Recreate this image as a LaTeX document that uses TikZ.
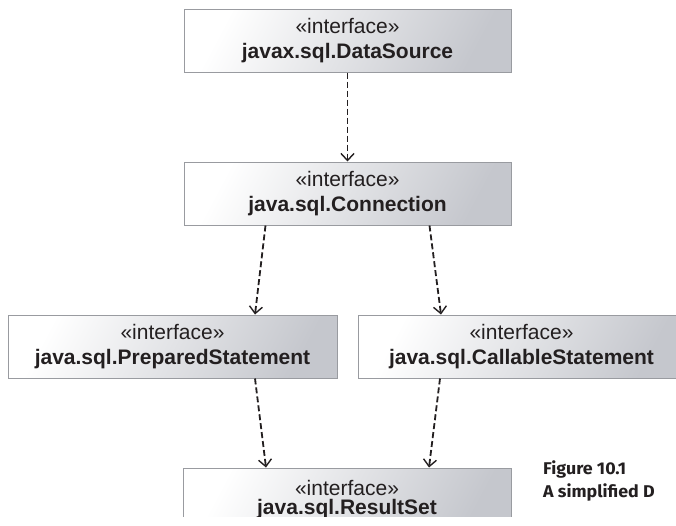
\documentclass[tikz,border=0pt]{standalone}
\usepackage{fontspec}
\setmainfont{Liberation Sans}
\newfontfamily\capfont[FakeStretch=1.05]{Fira Sans}
\usetikzlibrary{arrows.meta}
\definecolor{boxline}{HTML}{999BA0}
\definecolor{boxshade}{HTML}{C5C7CD}
\definecolor{ink}{HTML}{231F20}
\begin{document}
\begin{tikzpicture}[x=1pt,y=-1pt,
	iface/.style={draw=boxline,line width=1pt,shading=axis,top color=white,bottom color=boxshade,shading angle=62,
		minimum width=327pt,minimum height=63pt,inner sep=0pt,align=center,text=ink,
		font=\fontsize{21}{25}\selectfont},
	dep/.style={draw=ink,line width=1.8pt,dash pattern=on 6pt off 3pt,-{Straight Barb[length=7pt,width=13pt,line width=1.4pt]}}]
	\useasboundingbox (0,0) rectangle (676,525);
	\node[iface] (ds) at (347.5,40.5) {«interface»\\\textbf{javax.sql.DataSource}};
	\node[iface] (conn) at (347.5,193.5) {«interface»\\\textbf{java.sql.Connection}};
	\node[iface,minimum width=329pt] (prep) at (172.5,346.5) {«interface»\\\textbf{java.sql.PreparedStatement}};
	\node[iface] (call) at (521.5,346.5) {«interface»\\\textbf{java.sql.CallableStatement}};
	\begin{scope}
		\clip (0,0) rectangle (676,516);
		\node[iface,minimum width=328pt,font=\fontsize{21}{19}\selectfont] (rs) at (347,499.5) {«interface»\\\textbf{java.sql.ResultSet}};
	\end{scope}
	\draw[dep] (ds.south) -- (conn.north);
	\draw[dep] ([xshift=-82pt]conn.south) -- ([xshift=82.5pt]prep.north);
	\draw[dep] ([xshift=82pt]conn.south) -- ([xshift=-80.5pt]call.north);
	\draw[dep] ([xshift=82.5pt]prep.south) -- ([xshift=-81pt]rs.north);
	\draw[dep] ([xshift=-81.5pt]call.south) -- ([xshift=82pt]rs.north);
	\node[anchor=base west,align=left,inner sep=0pt,text=ink,font=\capfont\bfseries\fontsize{17}{23}\selectfont] (cap) at (543,497) {Figure 10.1\\A simplified D};
\end{tikzpicture}
\end{document}
